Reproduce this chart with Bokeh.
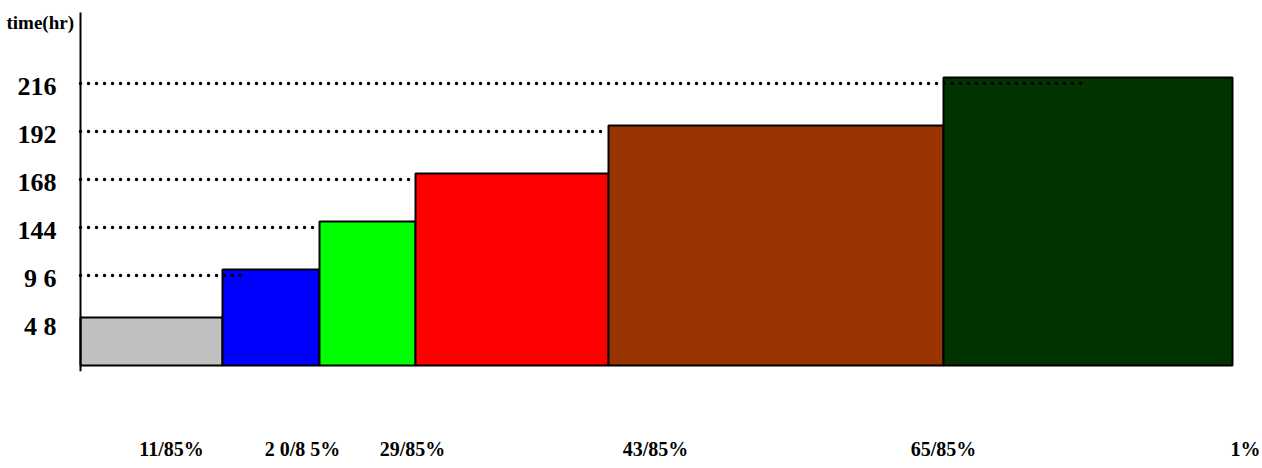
from bokeh.plotting import figure
from bokeh.models import (FixedTicker, CustomJSTickFormatter, ColumnDataSource,
                          Range1d)
from bokeh.core.properties import value
from bokeh.embed import file_html
from bokeh.resources import INLINE

# Time levels shown on the (ordinal) vertical axis
hour_ticks = [48, 96, 144, 168, 192, 216]
hour_labels = ["4 8", "9 6", "144", "168", "192", "216"]

# One bar per stage: hours reached and horizontal extent along the share axis
bar_hours = [48, 96, 144, 168, 192, 216]
bar_left = [0, 142, 239, 335, 528, 863]
bar_right = [142, 239, 335, 528, 863, 1152]
bar_colors = ["#C0C0C0", "#0000FF", "#00FF00", "#FF0000", "#993300", "#003300"]

# Cumulative share labels along the bottom
share_labels = ["11/85%", "2 0/8 5%", "29/85%", "43/85%", "65/85%", "1%"]
share_pos = [91, 222, 332, 575, 863, 1165]

# Dotted guide lines: hour level and where each guide stops
guide_hours = [96, 144, 168, 192, 216]
guide_end = [165, 234, 332, 524, 1001]

FONT = "Liberation Serif"

# ordinal position of each hour value on the vertical axis
rank = {h: i + 1 for i, h in enumerate(hour_ticks)}
bar_top = [rank[h] for h in bar_hours]

p = figure(width=1262, height=468, output_backend="svg", toolbar_location=None,
           x_range=Range1d(-80, 1182), y_range=Range1d(-0.125, 7.604),
           min_border_left=0, min_border_right=0, min_border_top=0,
           min_border_bottom=97)
p.outline_line_color = None
p.grid.visible = False
p.yaxis.visible = False
p.background_fill_color = "white"
p.border_fill_color = "white"

src = ColumnDataSource(dict(left=bar_left, right=bar_right,
                            top=bar_top, bottom=[0] * len(bar_top),
                            color=bar_colors))
p.quad(left="left", right="right", top="top", bottom="bottom", source=src,
       fill_color="color", line_color="black", line_width=2)

# dotted guides from the axis to each bar
gy = [rank[h] - 0.125 for h in guide_hours]
p.segment(x0=[0] * len(gy), y0=gy, x1=guide_end, y1=gy,
          line_color="black", line_width=3.5, line_dash="0 8", line_cap="round")

# vertical axis line and its hour labels
p.segment(x0=[0], y0=[-0.125], x1=[0], y1=[7.354],
          line_color="black", line_width=2)
p.text(x=[-24] * len(hour_ticks), y=[rank[h] - 0.19 for h in hour_ticks],
       text=hour_labels, text_font=value(FONT), text_font_style="bold",
       text_font_size="26px", text_align="right", text_baseline="middle",
       text_color="black")
p.text(x=[-74], y=[7.146], text=["time(hr)"], text_font=value(FONT),
       text_font_style="bold", text_font_size="19px", text_align="left",
       text_baseline="middle", text_color="black")

# horizontal axis: labels only
xa = p.xaxis[0]
xa.ticker = FixedTicker(ticks=share_pos)
xa.formatter = CustomJSTickFormatter(args=dict(labels=share_labels),
                                     code="return labels[index]")
xa.axis_line_color = None
xa.major_tick_line_color = None
xa.minor_tick_line_color = None
xa.major_tick_out = 0
xa.major_tick_in = 0
xa.major_label_standoff = 66
xa.major_label_text_font = FONT
xa.major_label_text_font_style = "bold"
xa.major_label_text_font_size = "20px"
xa.major_label_text_color = "black"

open("out.html", "w").write(file_html(p, INLINE))
